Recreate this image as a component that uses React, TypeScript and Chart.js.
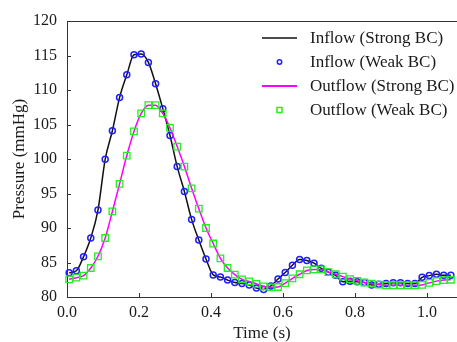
import React, { useEffect, useRef } from "react";
import { Chart, registerables } from "chart.js";

Chart.register(...registerables);

const times = [
  0.006, 0.026, 0.046, 0.066, 0.086, 0.106, 0.126, 0.146, 0.166, 0.186,
  0.206, 0.226, 0.246, 0.266, 0.286, 0.306, 0.326, 0.346, 0.366, 0.386,
  0.406, 0.426, 0.446, 0.466, 0.486, 0.506, 0.526, 0.546, 0.566, 0.586,
  0.606, 0.626, 0.646, 0.666, 0.686, 0.706, 0.726, 0.746, 0.766, 0.786,
  0.806, 0.826, 0.846, 0.866, 0.886, 0.906, 0.926, 0.946, 0.966, 0.986,
  1.006, 1.026, 1.046, 1.066,
];

const inflow = [
  83.5, 83.8, 85.85, 88.55, 92.6, 99.95, 104.1, 108.9, 112.2, 115.1,
  115.2, 114.0, 110.9, 107.3, 103.4, 98.9, 95.3, 91.25, 88.25, 85.5,
  83.2, 82.9, 82.45, 82.1, 81.95, 81.75, 81.3, 81.1, 81.6, 82.6,
  83.55, 84.6, 85.45, 85.3, 84.9, 84.15, 83.6, 83.15, 82.2, 82.3,
  82.2, 82.1, 81.75, 81.85, 81.95, 82.05, 82.05, 81.95, 81.95, 82.85,
  83.1, 83.3, 83.15, 83.15,
];

const outflow = [
  82.55, 82.8, 83.1, 84.2, 85.9, 88.55, 92.4, 96.4, 100.5, 104.0,
  106.6, 107.8, 107.8, 106.6, 104.5, 101.8, 98.9, 95.75, 92.8, 90.0,
  87.75, 85.6, 84.2, 83.25, 82.55, 82.25, 81.9, 81.55, 81.4, 81.45,
  82.0, 82.7, 83.3, 83.85, 84.0, 84.0, 83.6, 83.3, 82.95, 82.6,
  82.35, 82.1, 81.95, 81.8, 81.7, 81.7, 81.7, 81.7, 81.7, 81.75,
  82.05, 82.3, 82.45, 82.5,
];

const xTicks = [0.0, 0.2, 0.4, 0.6, 0.8, 1.0];
const yTicks = [80, 85, 90, 95, 100, 105, 110, 115, 120];
const seriesLabels = [
  "Inflow (Strong BC)",
  "Inflow (Weak BC)",
  "Outflow (Strong BC)",
  "Outflow (Weak BC)",
];
const xTitle = "Time (s)";
const yTitle = "Pressure (mmHg)";

const FONT = "'Liberation Serif', 'Times New Roman', serif";
const AXIS = "#333333";
const TEXT = "#1a1a1a";
const BLACK = "#111111";
const BLUE = "#1f1fff";
const MAGENTA = "#ff00ff";
const GREEN = "#22ee22";

const pts = (vals: number[]) => times.map((t, i) => ({ x: t, y: vals[i] }));

const frameAndLegend = {
  id: "frameAndLegend",
  afterDraw(chart: any) {
    const { ctx, chartArea } = chart;
    const xs = chart.scales.x;
    const ys = chart.scales.y;
    ctx.save();
    ctx.strokeStyle = AXIS;
    ctx.lineWidth = 1;
    ctx.beginPath();
    ctx.moveTo(chartArea.left, chartArea.top + 0.5);
    ctx.lineTo(chartArea.right, chartArea.top + 0.5);
    ctx.stroke();
    ctx.beginPath();
    yTicks.forEach((v) => {
      const y = Math.round(ys.getPixelForValue(v)) + 0.5;
      ctx.moveTo(chartArea.left, y);
      ctx.lineTo(chartArea.left + 4, y);
    });
    xTicks.forEach((v) => {
      const x = Math.round(xs.getPixelForValue(v)) + 0.5;
      ctx.moveTo(x, chartArea.bottom);
      ctx.lineTo(x, chartArea.bottom - 4);
    });
    ctx.stroke();

    const lx0 = chartArea.right - 195;
    const lx1 = chartArea.right - 160;
    const tx = chartArea.right - 147;
    const mx = (lx0 + lx1) / 2;
    ctx.font = `17px ${FONT}`;
    ctx.textBaseline = "middle";
    ctx.textAlign = "left";
    seriesLabels.forEach((lab, i) => {
      const y = chartArea.top + 17 + 24 * i;
      if (i === 0 || i === 2) {
        ctx.strokeStyle = i === 0 ? BLACK : MAGENTA;
        ctx.lineWidth = i === 0 ? 1.5 : 2;
        ctx.beginPath();
        ctx.moveTo(lx0, y);
        ctx.lineTo(lx1, y);
        ctx.stroke();
      } else if (i === 1) {
        ctx.strokeStyle = BLUE;
        ctx.lineWidth = 1.5;
        ctx.beginPath();
        ctx.arc(mx, y, 2.2, 0, Math.PI * 2);
        ctx.stroke();
      } else {
        ctx.strokeStyle = GREEN;
        ctx.lineWidth = 1.5;
        ctx.strokeRect(mx - 2.5, y - 2.5, 5, 5);
      }
      ctx.fillStyle = TEXT;
      ctx.fillText(lab, tx, y + 1);
    });
    ctx.restore();
  },
};

export default function App() {
  const ref = useRef<HTMLCanvasElement | null>(null);
  useEffect(() => {
    if (!ref.current) return;
    const chart = new Chart(ref.current, {
      type: "line",
      data: {
        datasets: [
          {
            label: seriesLabels[0],
            data: pts(inflow),
            borderColor: BLACK,
            borderWidth: 1.5,
            pointRadius: 0,
            cubicInterpolationMode: "monotone",
            fill: false,
            order: 4,
          },
          {
            label: seriesLabels[1],
            data: pts(inflow),
            showLine: false,
            pointStyle: "circle",
            pointRadius: 3,
            pointBorderWidth: 1.5,
            pointBorderColor: BLUE,
            pointBackgroundColor: "rgba(0,0,0,0)",
            borderColor: BLUE,
            order: 3,
          },
          {
            label: seriesLabels[2],
            data: pts(outflow),
            borderColor: MAGENTA,
            borderWidth: 1.5,
            pointRadius: 0,
            cubicInterpolationMode: "monotone",
            fill: false,
            order: 2,
          },
          {
            label: seriesLabels[3],
            data: pts(outflow),
            showLine: false,
            pointStyle: "rect",
            pointRadius: 4.6,
            pointBorderWidth: 1.3,
            pointBorderColor: GREEN,
            pointBackgroundColor: "rgba(0,0,0,0)",
            borderColor: GREEN,
            order: 1,
          },
        ],
      },
      options: {
        responsive: false,
        animation: false,
        devicePixelRatio: 1,
        clip: false,
        layout: { autoPadding: false, padding: { top: 21, right: 0, left: 0, bottom: -2 } },
        plugins: {
          legend: { display: false },
          tooltip: { enabled: false },
        },
        scales: {
          x: {
            type: "linear",
            min: 0,
            max: 1.083,
            afterBuildTicks: (s: any) => {
              s.ticks = xTicks.map((v) => ({ value: v }));
            },
            afterFit: (s: any) => {
              s.paddingLeft = 0;
              s.paddingRight = 0;
              s.height = 47;
            },
            grid: { display: false, drawTicks: false },
            border: { display: true, color: AXIS, width: 1 },
            ticks: {
              color: TEXT,
              font: { family: FONT, size: 16 },
              padding: 6,
              maxRotation: 0,
              callback: (v: any) => Number(v).toFixed(1),
            },
            title: {
              display: true,
              text: xTitle,
              color: TEXT,
              font: { family: FONT, size: 17 },
              padding: { top: 0, bottom: 0 },
            },
          },
          y: {
            type: "linear",
            min: 80,
            max: 120,
            afterBuildTicks: (s: any) => {
              s.ticks = yTicks.map((v) => ({ value: v }));
            },
            afterFit: (s: any) => {
              s.paddingTop = 0;
              s.paddingBottom = 0;
              s.width = 67;
            },
            grid: { display: false, drawTicks: false },
            border: { display: true, color: AXIS, width: 1 },
            ticks: {
              color: TEXT,
              font: { family: FONT, size: 16 },
              padding: 10,
              callback: (v: any) => String(v),
            },
            title: {
              display: true,
              text: yTitle,
              color: TEXT,
              font: { family: FONT, size: 17 },
              padding: { top: 9, bottom: 0 },
            },
          },
        },
      },
      plugins: [frameAndLegend],
    } as any);
    return () => chart.destroy();
  }, []);
  return (
    <canvas
      ref={ref}
      width={457}
      height={342}
      style={{ position: "absolute", left: 0, top: 0, display: "block", width: 457, height: 342 }}
    />
  );
}
